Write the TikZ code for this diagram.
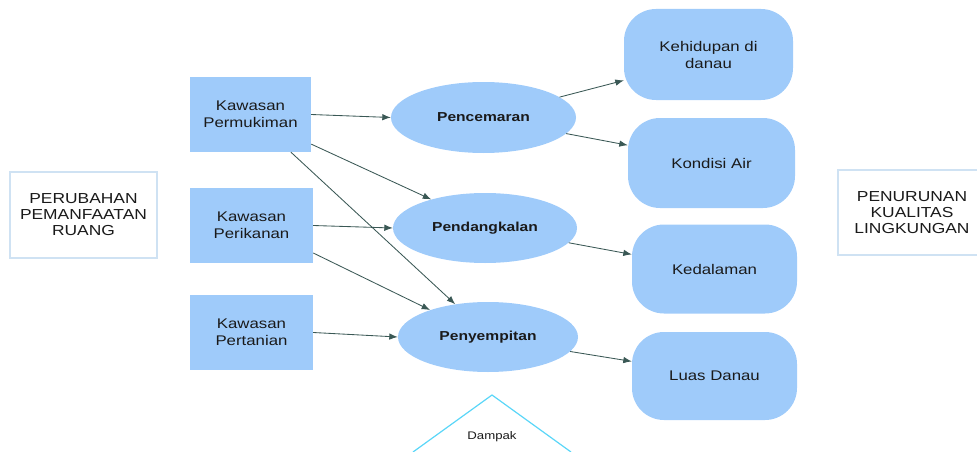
\documentclass[tikz,border=0pt]{standalone}
\usepackage{fontspec}
\setmainfont{Liberation Sans}[FakeStretch=1.2]
\usetikzlibrary{shapes.geometric,arrows.meta}
\definecolor{fillblue}{HTML}{9FCBFA}
\definecolor{edgeblue}{HTML}{CFE2F3}
\definecolor{arrowcol}{HTML}{3A5855}
\definecolor{tricol}{HTML}{5AD6F8}
\definecolor{txt}{HTML}{1A1A1A}
\begin{document}
\begin{tikzpicture}[x=1pt,y=-1pt,
  srcbox/.style={rectangle, fill=fillblue, draw=none, align=center, text=txt,
    font=\fontsize{14}{17}\selectfont, inner sep=0pt},
  effect/.style={ellipse, fill=fillblue, draw=none, inner sep=0pt, text=txt,
    font=\fontsize{13}{16}\selectfont\bfseries},
  result/.style={rectangle, rounded corners=32pt, fill=fillblue, draw=none, align=center,
    text=txt, font=\fontsize{14}{17}\selectfont, inner sep=0pt,
    minimum width=167pt, minimum height=90pt},
  titlebox/.style={rectangle, fill=white, draw=edgeblue, line width=1.5pt, align=center,
    text=txt, font=\fontsize{14.5}{16}\selectfont, inner sep=0pt,
    minimum width=147pt, minimum height=86pt},
  titletext/.style={align=center, text=txt, font=\fontsize{14.5}{16}\selectfont, inner sep=0pt},
  link/.style={draw=arrowcol, line width=0.85pt, -{Latex[length=8.5pt,width=6.5pt]}}
]
\useasboundingbox (0,0) rectangle (977,452);

\node[titlebox] (perubahan) at (83.5,215) {PERUBAHAN\\PEMANFAATAN\\RUANG};
\draw[fill=white, draw=edgeblue, line width=1.5pt] (838,170) rectangle (1000,255);
\node[titletext] (penurunan) at (912,212.5) {PENURUNAN\\KUALITAS\\LINGKUNGAN};

\node[srcbox, minimum width=121pt, minimum height=75pt] (perm) at (250.5,114.5) {Kawasan\\Permukiman};
\node[srcbox, minimum width=123pt, minimum height=75pt] (perik) at (251.5,225.5) {Kawasan\\Perikanan};
\node[srcbox, minimum width=123pt, minimum height=75pt] (pert) at (251.5,332.5) {Kawasan\\Pertanian};

\node[effect, minimum width=185pt, minimum height=71pt] (penc) at (483.5,117.5) {Pencemaran};
\node[effect, minimum width=184pt, minimum height=70pt] (pend) at (485,228) {Pendangkalan};
\node[effect, minimum width=180pt, minimum height=70pt] (peny) at (488,337) {Penyempitan};

\node[result, minimum width=169pt, minimum height=91pt] (kehid) at (708.5,54.5) {Kehidupan di\\danau};
\node[result] (kondisi) at (711.5,163) {Kondisi Air};
\node[result, minimum width=165pt, minimum height=89pt] (kedal) at (714.5,269) {Kedalaman};
\node[result, minimum width=165pt, minimum height=88pt] (luas) at (714.5,376) {Luas Danau};

\draw[link] (perm.east) -- (penc.west);
\draw[link] (perm.-26) -- (pend.152);
\draw[link] (perm.-43.5) -- (peny.135);
\draw[link] (perik.east) -- (pend.west);
\draw[link] (perik.-24.9) -- (peny.155);
\draw[link] (pert.east) -- (peny.west);
\draw[link] (penc.15.5) -- (kehid.197);
\draw[link] (penc.-11.4) -- (kondisi.168.5);
\draw[link] (pend.-10) -- (kedal.170.4);
\draw[link] (peny.-10.4) -- (luas.170.4);

\coordinate (tl) at (413,452);
\coordinate (tr) at (571,452);
\coordinate (apex) at (492,395);
\draw[tricol, line width=1.2pt] (tl) -- (apex) -- (tr);
\node[text=txt, font=\fontsize{11}{13}\selectfont] (dampak) at (492,437) {Dampak};
\end{tikzpicture}
\end{document}
